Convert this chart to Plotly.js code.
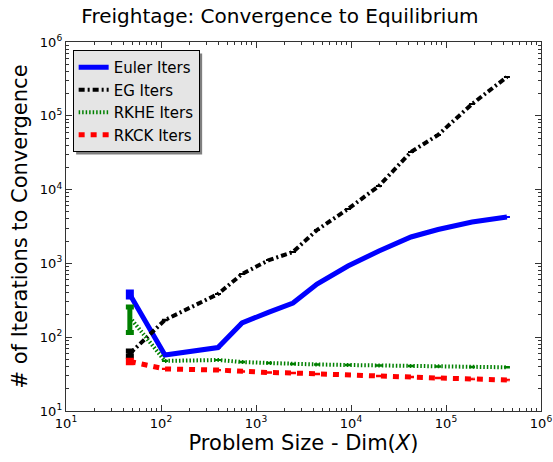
<!DOCTYPE html>
<html>
<head>
<meta charset="utf-8">
<script src="https://cdn.plot.ly/plotly-3.0.1.min.js"></script>
<style>html,body{margin:0;padding:0;background:#fff;}#chart{width:553px;height:462px;}</style>
</head>
<body>
<div id="chart"></div>
<script>
// Problem sizes (x)
var sizes = [47, 110, 398, 713, 1370, 2450, 4390, 9290, 19700, 42800, 82400, 188000, 438000];
// Iterations to convergence
var eulerIters = [380, 57.4, 72.4, 156, 219, 290, 526, 923, 1473, 2280, 2880, 3640, 4255];
var eulerErr   = [30, 1, 1, 2, 3, 4, 6, 10, 15, 20, 30, 40, 40];
var egIters    = [60, 171, 385, 718, 1110, 1427, 2840, 5460, 11200, 32400, 55000, 144500, 336000];
var egErr      = [5, 3, 6, 10, 15, 20, 40, 80, 160, 450, 800, 2000, 4500];
var rkheIters  = [186, 47.7, 49.1, 46.1, 44.7, 43.3, 42.7, 42.0, 41.3, 40.7, 40.1, 39.5, 39.1];
var rkheErr    = [70, 0.8, 0.8, 0.8, 0.8, 0.8, 0.8, 0.8, 0.8, 0.8, 0.8, 0.8, 0.8];
var rkckIters  = [46.9, 37.1, 35.9, 34.3, 33.2, 32.7, 31.7, 30.7, 29.8, 28.9, 28.0, 27.2, 26.3];
var rkckErr    = [2, 0.6, 0.6, 0.6, 0.6, 0.6, 0.6, 0.6, 0.6, 0.6, 0.6, 0.6, 0.6];
var seriesNames = ['Euler Iters', 'EG Iters', 'RKHE Iters', 'RKCK Iters'];
// Axis tick labels
var decadeVals = [10, 100, 1000, 10000, 100000, 1000000];
var decadeText = ['10<sup>1</sup>', '10<sup>2</sup>', '10<sup>3</sup>', '10<sup>4</sup>', '10<sup>5</sup>', '10<sup>6</sup>'];

var minorVals = [];
for (var d = 0; d < decadeVals.length - 1; d++) {
  for (var m = 2; m <= 9; m++) minorVals.push(decadeVals[d] * m);
}

var styles = [
  {color: '#0000ff', width: 5, dash: 'solid'},
  {color: '#000000', width: 4, dash: '6px,3px,2px,3px'},
  {color: '#008000', width: 4, dash: '1.5px,2px'},
  {color: '#ff0000', width: 5, dash: '6px,6px'}
];
var ys = [eulerIters, egIters, rkheIters, rkckIters];
var errs = [eulerErr, egErr, rkheErr, rkckErr];

var traces = [];
for (var i = 0; i < 4; i++) {
  traces.push({
    x: sizes, y: ys[i], type: 'scatter', mode: 'lines', name: seriesNames[i],
    line: styles[i],
    error_y: {type: 'data', array: errs[i], visible: true, color: styles[i].color, thickness: 1.2, width: 3}
  });
}
// thick first-point error bars
for (var i = 0; i < 4; i++) {
  traces.push({
    x: [sizes[0]], y: [ys[i][0]], type: 'scatter', mode: 'markers', showlegend: false,
    marker: {size: 1, color: styles[i].color, opacity: 0}, hoverinfo: 'skip',
    error_y: {type: 'data', array: [errs[i][0]], visible: true, color: styles[i].color, thickness: 5, width: 4}
  });
}

var axisCommon = {
  type: 'log', showgrid: false, zeroline: false,
  showline: true, linecolor: '#333', linewidth: 1.2, mirror: 'allticks',
  ticks: 'inside', ticklen: 6, tickcolor: '#333', tickwidth: 1,
  tickmode: 'array', tickvals: decadeVals, ticktext: decadeText,
  tickfont: {family: 'DejaVu Sans', size: 13, color: '#000'},
  minor: {tickmode: 'array', tickvals: minorVals, ticks: 'inside', ticklen: 3, tickcolor: '#333', tickwidth: 1}
};

var layout = {
  width: 553, height: 462,
  margin: {l: 66, r: 12, t: 42, b: 51, pad: 0},
  paper_bgcolor: '#fff', plot_bgcolor: '#fff',
  font: {family: 'DejaVu Sans', color: '#000'},
  title: {text: 'Freightage: Convergence to Equilibrium', font: {family: 'DejaVu Sans', size: 20, color: '#000'},
          xref: 'paper', x: 0.4505, xanchor: 'center', yref: 'container', y: 0.965, yanchor: 'middle'},
  xaxis: Object.assign({}, axisCommon, {range: [1, 6],
    title: {text: 'Problem Size - Dim(<i>X</i>)', font: {family: 'DejaVu Sans', size: 21, color: '#000'}, standoff: 4}}),
  yaxis: Object.assign({}, axisCommon, {range: [1, 6],
    title: {text: '# of Iterations to Convergence', font: {family: 'DejaVu Sans', size: 21, color: '#000'}, standoff: 6}}),
  showlegend: true,
  legend: {x: 0.014, y: 0.978, xanchor: 'left', yanchor: 'top', bgcolor: '#e5e5e5', bordercolor: '#000', borderwidth: 1,
           font: {family: 'DejaVu Sans', size: 15, color: '#000'}, traceorder: 'normal'}
};

Plotly.newPlot('chart', traces, layout, {displayModeBar: false, staticPlot: true}).then(function(gd) {
  var bg = gd.querySelector('.legend .bg');
  if (!bg) return;
  var r = bg.getBoundingClientRect();
  var g = gd.querySelector('.main-svg').getBoundingClientRect();
  var fl = gd._fullLayout;
  var left = r.left - g.left + 3, top = r.top - g.top + 3;
  var w = r.width, h = r.height;
  var x0 = (left - fl._size.l) / fl._size.w, x1 = (left + w - fl._size.l) / fl._size.w;
  var y1 = 1 - (top - fl._size.t) / fl._size.h, y0 = 1 - (top + h - fl._size.t) / fl._size.h;
  return Plotly.relayout(gd, {shapes: [{type: 'rect', xref: 'paper', yref: 'paper', x0: x0, x1: x1, y0: y0, y1: y1,
    fillcolor: 'rgba(0,0,0,0.5)', line: {width: 0}, layer: 'above'}]});
});
</script>
</body>
</html>
